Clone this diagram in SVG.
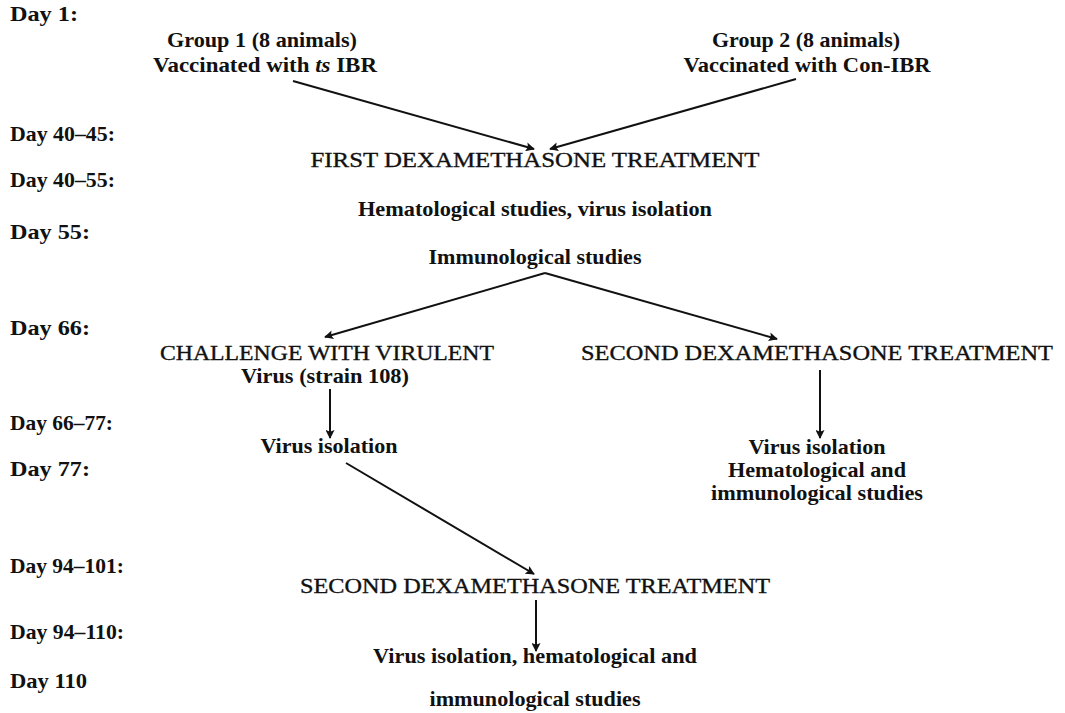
<svg xmlns="http://www.w3.org/2000/svg" width="1065" height="713" viewBox="0 0 1065 713">
<style>
text{font-family:"Liberation Serif","DejaVu Serif",serif;fill:#111;}
.day{font-size:21px;font-weight:bold;}
.b{font-size:21px;font-weight:bold;text-anchor:middle;}
.h{font-size:22px;text-anchor:middle;stroke:#111;stroke-width:0.35;}
.c{stroke:#111;stroke-width:2;fill:none;marker-end:url(#ah);}
</style>
<defs>
<marker id="ah" viewBox="0 0 10 10" refX="9" refY="5" markerWidth="5.5" markerHeight="4.5" orient="auto" markerUnits="strokeWidth">
<path d="M0,0 L10,5 L0,10 L2,5 z" fill="#111"/>
</marker>
</defs>
<rect width="1065" height="713" fill="#fff"/>
<g id="days">
<text class="day" x="10" y="21" textLength="68" lengthAdjust="spacingAndGlyphs">Day 1:</text>
<text class="day" x="10" y="141" textLength="105" lengthAdjust="spacingAndGlyphs">Day 40–45:</text>
<text class="day" x="10" y="187" textLength="105" lengthAdjust="spacingAndGlyphs">Day 40–55:</text>
<text class="day" x="10" y="239" textLength="80" lengthAdjust="spacingAndGlyphs">Day 55:</text>
<text class="day" x="10" y="335" textLength="80" lengthAdjust="spacingAndGlyphs">Day 66:</text>
<text class="day" x="10" y="430" textLength="103" lengthAdjust="spacingAndGlyphs">Day 66–77:</text>
<text class="day" x="10" y="476" textLength="80" lengthAdjust="spacingAndGlyphs">Day 77:</text>
<text class="day" x="10" y="573" textLength="114" lengthAdjust="spacingAndGlyphs">Day 94–101:</text>
<text class="day" x="10" y="639" textLength="114" lengthAdjust="spacingAndGlyphs">Day 94–110:</text>
<text class="day" x="10" y="688" textLength="77" lengthAdjust="spacingAndGlyphs">Day 110</text>
</g>
<g id="group1">
<text class="b" x="262" y="47" textLength="190" lengthAdjust="spacingAndGlyphs">Group 1 (8 animals)</text>
<text class="b" x="265" y="72" textLength="224" lengthAdjust="spacingAndGlyphs">Vaccinated with <tspan font-style="italic">ts</tspan> IBR</text>
</g>
<g id="group2">
<text class="b" x="806" y="47" textLength="188" lengthAdjust="spacingAndGlyphs">Group 2 (8 animals)</text>
<text class="b" x="807" y="72" textLength="247" lengthAdjust="spacingAndGlyphs">Vaccinated with Con-IBR</text>
</g>
<g id="first-dex">
<text class="h" x="535" y="167" textLength="449" lengthAdjust="spacingAndGlyphs">FIRST  DEXAMETHASONE  TREATMENT</text>
</g>
<g id="hemat1">
<text class="b" x="535" y="216" textLength="354" lengthAdjust="spacingAndGlyphs">Hematological studies, virus isolation</text>
</g>
<g id="immuno1">
<text class="b" x="535" y="264" textLength="213" lengthAdjust="spacingAndGlyphs">Immunological studies</text>
</g>
<g id="challenge">
<text class="h" x="327" y="360" textLength="334" lengthAdjust="spacingAndGlyphs">CHALLENGE WITH VIRULENT</text>
<text class="b" x="325" y="383" textLength="168" lengthAdjust="spacingAndGlyphs">Virus (strain 108)</text>
</g>
<g id="second-dex-right">
<text class="h" x="817" y="360" textLength="472" lengthAdjust="spacingAndGlyphs">SECOND DEXAMETHASONE TREATMENT</text>
</g>
<g id="virus-iso-left">
<text class="b" x="329" y="453" textLength="137" lengthAdjust="spacingAndGlyphs">Virus isolation</text>
</g>
<g id="virus-iso-right">
<text class="b" x="817" y="454" textLength="137" lengthAdjust="spacingAndGlyphs">Virus isolation</text>
<text class="b" x="817" y="477" textLength="178" lengthAdjust="spacingAndGlyphs">Hematological and</text>
<text class="b" x="817" y="500" textLength="212" lengthAdjust="spacingAndGlyphs">immunological studies</text>
</g>
<g id="second-dex-lower">
<text class="h" x="535" y="593" textLength="470" lengthAdjust="spacingAndGlyphs">SECOND DEXAMETHASONE TREATMENT</text>
</g>
<g id="final">
<text class="b" x="535" y="663" textLength="324" lengthAdjust="spacingAndGlyphs">Virus isolation, hematological and</text>
<text class="b" x="535" y="706" textLength="211" lengthAdjust="spacingAndGlyphs">immunological studies</text>
</g>
<g id="connectors">
<line class="c" x1="293" y1="81" x2="534" y2="149"/>
<line class="c" x1="796" y1="79" x2="550" y2="149"/>
<polyline class="c" points="545,273 325,337"/>
<line class="c" x1="545" y1="273" x2="777" y2="339"/>
<line class="c" x1="330" y1="389" x2="330" y2="438"/>
<line class="c" x1="820" y1="370" x2="820" y2="438"/>
<line class="c" x1="346" y1="463" x2="534" y2="574"/>
<line class="c" x1="536" y1="600" x2="536" y2="651"/>
</g>
</svg>
